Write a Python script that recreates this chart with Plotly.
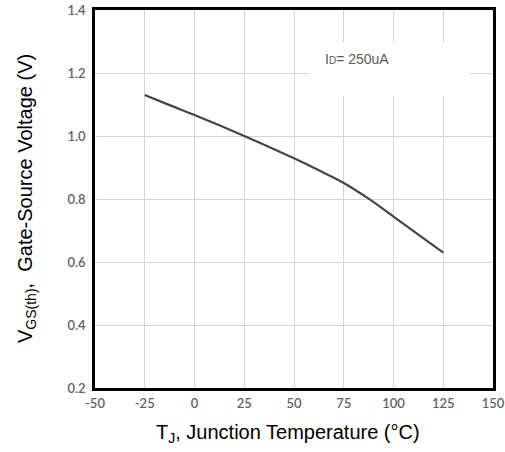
import plotly.graph_objects as go

temps = [-25, -12.5, 0, 12.5, 25, 37.5, 50, 62.5, 75, 87.5, 100, 112.5, 125]
vgs = [1.13, 1.098, 1.067, 1.034, 1.0, 0.965, 0.929, 0.891, 0.851, 0.801, 0.744, 0.687, 0.63]
x_ticks = [-50, -25, 0, 25, 50, 75, 100, 125, 150]
y_ticks = [0.2, 0.4, 0.6, 0.8, 1.0, 1.2, 1.4]
x_tick_text = ["-50", "-25", "0", "25", "50", "75", "100", "125", "150"]
y_tick_text = ["0.2", "0.4", "0.6", "0.8", "1.0", "1.2", "1.4"]
x_title = "T<sub>J</sub>, Junction Temperature (°C)"
y_title = "V<sub>GS(th)</sub>,  Gate-Source Voltage (V)"
note = "I<span style='font-size:10px'>D</span>= 250uA"

fig = go.Figure()
fig.add_trace(go.Scatter(x=temps, y=vgs, mode="lines",
                         line=dict(color="#454545", width=2.2, shape="spline", smoothing=1.0),
                         showlegend=False, hoverinfo="skip"))

tickfont = dict(family="Lato", size=13, color="#626262", weight=600)
fig.update_xaxes(range=[-50, 150], tickvals=x_ticks, ticktext=x_tick_text,
                 showgrid=True, gridcolor="#d4d4d4", gridwidth=1,
                 showline=True, linecolor="black", linewidth=2.5, mirror=True,
                 zeroline=False, ticks="", tickfont=tickfont, ticklabelstandoff=2,
                 ticklabeloverflow="allow")
fig.update_yaxes(range=[0.2, 1.4], tickvals=y_ticks, ticktext=y_tick_text,
                 showgrid=True, gridcolor="#d4d4d4", gridwidth=1,
                 showline=True, linecolor="black", linewidth=2.5, mirror=True,
                 zeroline=False, ticks="", tickfont=tickfont, ticklabelstandoff=4,
                 ticklabeloverflow="allow")

fig.add_shape(type="rect", xref="x", yref="y", x0=58, x1=138.5, y0=1.127, y1=1.295,
              fillcolor="white", line=dict(width=0), layer="above")
fig.add_annotation(x=81.5, y=1.244, xref="x", yref="y", showarrow=False, text=note,
                   font=dict(family="Arial", size=14, color="#5a5a5a"))

fig.add_annotation(x=0.485, y=0, xref="paper", yref="paper", xanchor="center", yanchor="middle",
                   yshift=-45, showarrow=False, text=x_title,
                   font=dict(family="Arial", size=20, color="black"))
fig.add_annotation(x=0, y=0.5, xref="paper", yref="paper", xanchor="center", yanchor="middle",
                   xshift=-69, textangle=-90, showarrow=False, text=y_title,
                   font=dict(family="Arial", size=20, color="black"))

fig.update_layout(width=505, height=452, margin=dict(l=95, r=12, t=10, b=64, autoexpand=False),
                  plot_bgcolor="white", paper_bgcolor="white")
fig.write_html("out.html", config={"displayModeBar": False},
               post_script="document.body.style.margin='0';document.body.style.overflow='hidden';")
